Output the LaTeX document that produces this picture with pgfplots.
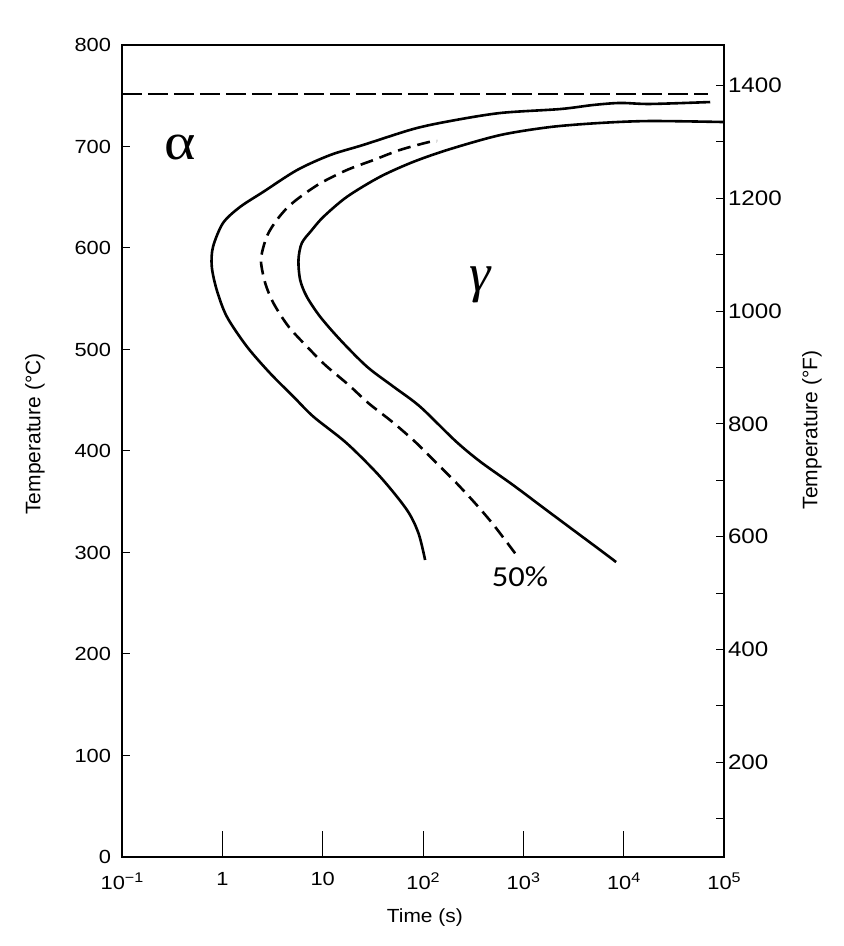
\documentclass[border=0pt]{standalone}
\usepackage{fontspec}
\setmainfont{Liberation Sans}
\newfontfamily\calibri{Carlito}
\newfontfamily\serifgr{Liberation Serif}
\usepackage{pgfplots}
\pgfplotsset{compat=1.18}
\newcommand{\sx}[1]{\raisebox{7pt}{\fontsize{14}{14}\selectfont #1}}
\begin{document}
\begin{tikzpicture}
\path[use as bounding box] (-122pt,-89pt) rectangle (722pt,857pt);
% main axis: curves, x axis, left tick labels
\begin{axis}[
 at={(0pt,0pt)}, anchor=south west,
 scale only axis, width=602pt, height=812pt,
 xmode=log, xmin=0.1, xmax=100000, ymin=0, ymax=800,
 xtick={0.1,1,10,100,1000,10000,100000},
 xticklabels={10\sx{−1},1,10,10\sx{2},10\sx{3},10\sx{4},10\sx{5}},
 xminorticks=false, yminorticks=false,
 xtick pos=left,
 ytick={0,100,...,800},
 ytick pos=left,
 tick align=inside,
 major tick length=26pt,
 ytick style={draw=none},
 xtick style={line width=1pt, black},
 axis line style={line width=1.6pt, black},
 /pgf/number format/assume math mode=true,
 xticklabel style={font=\fontsize{19}{19}\selectfont, xscale=1.15, yshift=-12pt},
 yticklabel style={font=\fontsize{19}{19}\selectfont, xscale=1.15, xshift=-6pt},
 every axis x label/.style={at={(axis description cs:0.503,-0.074)}, anchor=center, font=\fontsize{19}{19}\selectfont, xscale=1.1},
 every axis y label/.style={at={(axis description cs:-0.1445,0.521)}, anchor=center, rotate=90, font=\fontsize{21}{21}\selectfont},
 xlabel={Time (s)}, ylabel={Temperature (°C)},
 clip=false,
]
% eutectoid line
\addplot[black, line width=1.8pt, dash pattern=on 20pt off 6pt] coordinates {(0.1,752) (69300,752)};
% start curve
\addplot[black, line width=2.6pt, smooth, tension=0.5] coordinates {
(105,292.6) (90.2,318.9) (69.2,341.9) (37.4,374.7) (17.4,407.6) (8.09,433.8)
(5.12,453.5) (3.0,476.5) (1.76,502.8) (1.11,532.3) (0.88,558.6) (0.785,581.6)
(0.807,601) (1.016,624.6) (1.50,640.4) (2.55,655.2) (5.56,676.8) (11.9,691.6)
(25.3,701.5) (79.8,717.2) (187,725.1) (589,733) (2333,736.9) (4980,740.9)
(9250,742.9) (18400,741.9) (72900,743.8)};
% 50 percent curve
\addplot[black, line width=2.6pt, smooth, tension=0.5, dash pattern=on 13pt off 7pt] coordinates {
(828,299.2) (506,327.1) (331,348.5) (209,369.8) (132,389.5) (83.2,409.2)
(49.1,428.9) (28.7,447) (18.2,465) (10.6,484.7) (7.24,501.2) (4.58,522.5)
(3.24,545.5) (2.68,565.2) (2.43,586.2) (2.55,600) (2.85,613.8) (3.43,626.6)
(4.41,639.4) (5.95,650.2) (9.46,663.7) (17.4,676.8) (32.2,686.7) (59,696.6)
(117.5,704.7) (138,705.4)};
% finish curve
\addplot[black, line width=2.6pt, smooth, tension=0.5] coordinates {
(8410,290.6) (5820,302.5) (3673,317.2) (1722,341.4) (789,366.5) (370,389.7)
(210,410) (93.5,443.7) (50.9,463.3) (27.7,483) (15,509.4)
(9.44,532.3) (6.95,552) (5.97,568.5) (5.74,588.2) (6.18,604.6) (7.7,617)
(10.2,630.8) (17.5,650.5) (37.4,670.2) (80.7,685) (187,697.5) (591,711.3)
(1862,719.2) (5860,723.2) (18500,725.1) (100000,724.1)};
\node[font=\fontsize{52}{52}\selectfont\serifgr, xscale=1.15] at (axis cs:0.379,699.5) {α};
\node[font=\fontsize{54}{54}\selectfont\serifgr\itshape] at (axis cs:370,563.5) {γ};
\node[font=\fontsize{29}{29}\selectfont\calibri, xscale=1.12] at (axis cs:927,275.9) {50\%};
\end{axis}
% left y ticks
\begin{axis}[
 at={(0pt,0pt)}, anchor=south west,
 scale only axis, width=602pt, height=812pt,
 xmin=0, xmax=1, ymin=0, ymax=800,
 hide x axis,
 ytick={100,200,...,700}, yticklabels={},
 ytick pos=left, tick align=inside,
 major tick length=8pt,
 ytick style={line width=1pt, black},
 axis line style={line width=1.6pt, black},
]
\end{axis}
% right axis in Fahrenheit
\begin{axis}[
 at={(0pt,0pt)}, anchor=south west,
 scale only axis, width=602pt, height=812pt,
 xmin=0, xmax=1, ymin=32, ymax=1472,
 hide x axis,
 ytick={100,200,...,1400},
 yticklabels={,200,,400,,600,,800,,1000,,1200,,1400},
 ytick pos=right, yticklabel pos=right, tick align=inside,
 major tick length=8pt,
 ytick style={line width=1pt, black},
 axis line style={line width=1.6pt, black},
 yticklabel style={font=\fontsize{21}{21}\selectfont, xscale=1.15},
 every axis y label/.style={at={(axis description cs:1.146,0.526)}, anchor=center, rotate=90, font=\fontsize{21}{21}\selectfont},
 ylabel={Temperature (°F)},
]
\end{axis}
\end{tikzpicture}
\end{document}
